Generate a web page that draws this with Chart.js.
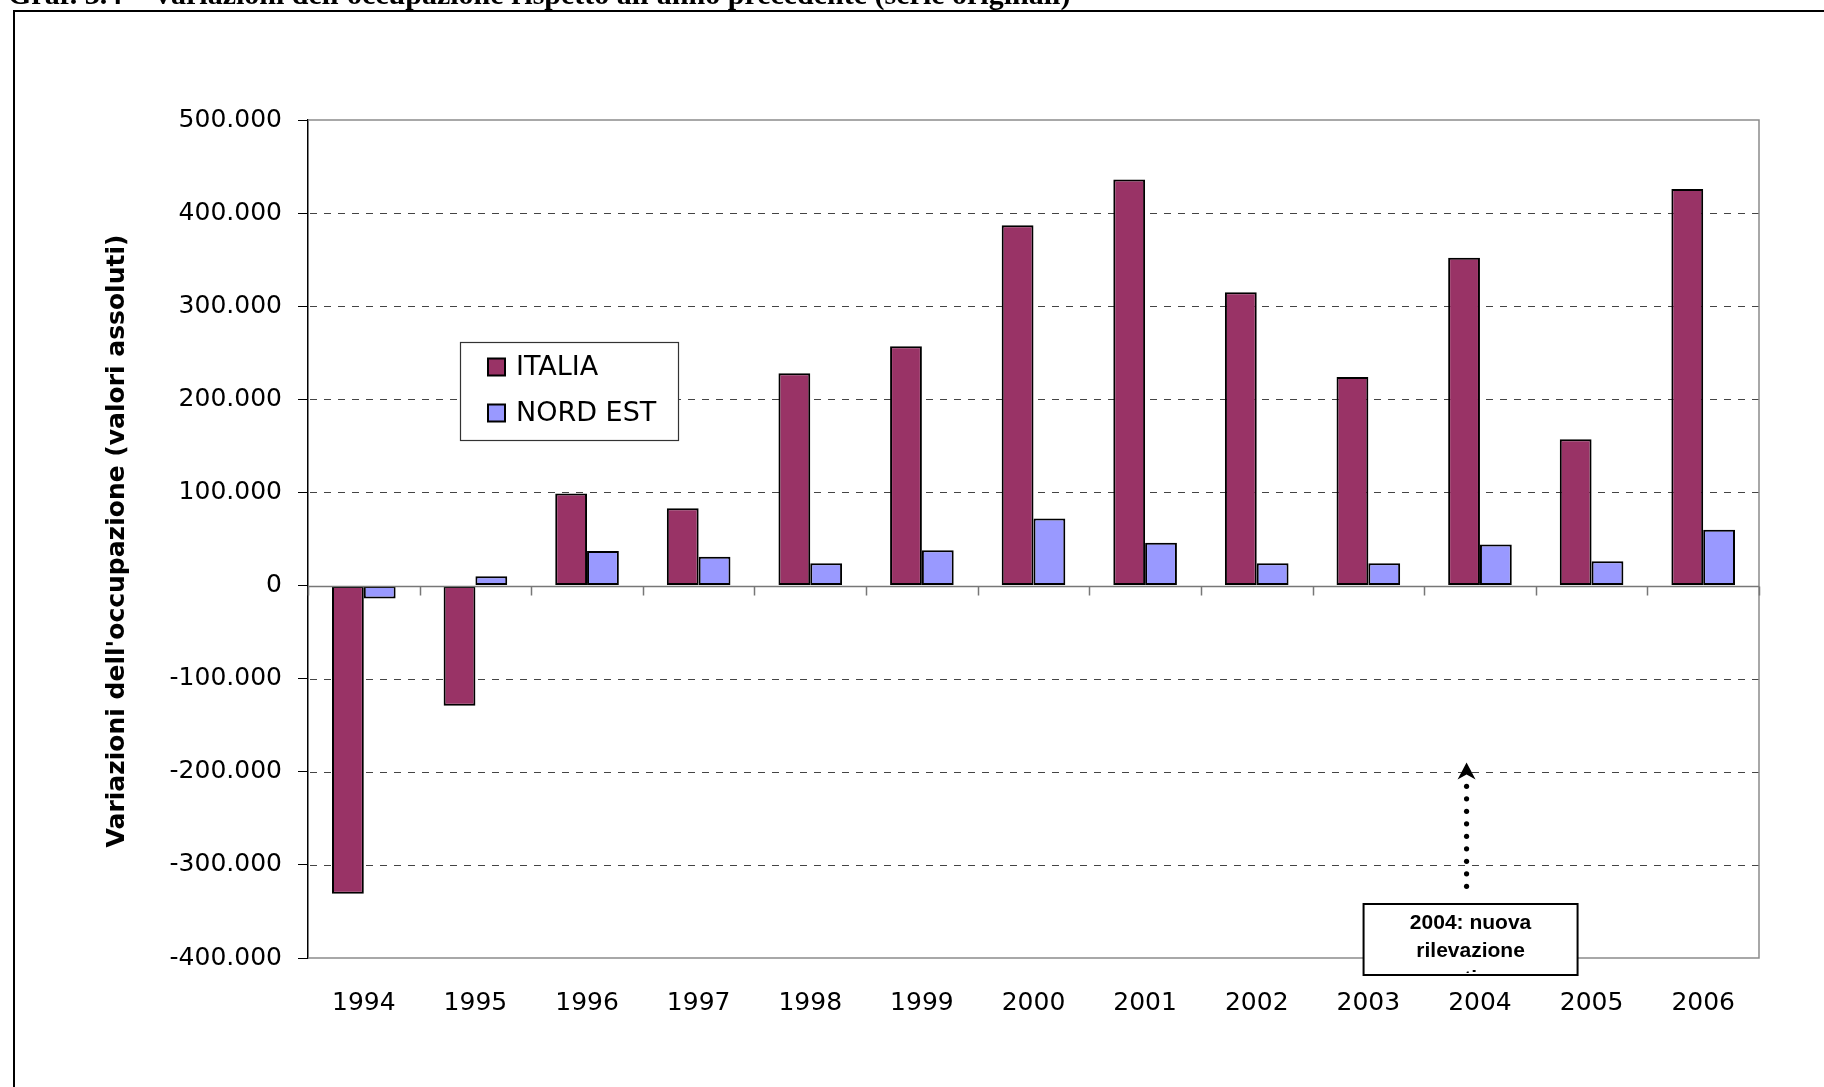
<!DOCTYPE html>
<html>
<head>
<meta charset="utf-8">
<script src="https://cdn.jsdelivr.net/npm/chart.js@4.4.1/dist/chart.umd.min.js"></script>
<style>
html, body { margin: 0; padding: 0; background: #fff; }
#chartReport { position: relative; width: 1824px; height: 1087px; overflow: hidden; }
canvas { display: block; }
</style>
</head>
<body>
<div id="chartReport"><canvas id="myChart" width="1824" height="1087"></canvas></div>
<script>
const PAGE_TITLE = "Graf. 3.4 \u2013 Variazioni dell'occupazione rispetto all'anno precedente (serie originali)";
const Y_TITLE = "Variazioni dell'occupazione (valori assoluti)";

const years = ['1994', '1995', '1996', '1997', '1998', '1999', '2000', '2001', '2002', '2003', '2004', '2005', '2006'];
const italia = [-331000, -129000, 99000, 83000, 228000, 257000, 387000, 436000, 315000, 224000, 352000, 157000, 426000];
const nordEst = [-14000, 10000, 37000, 31000, 24000, 38000, 72000, 46000, 24000, 24000, 44000, 26000, 60000];
const yTicks = [-400000, -300000, -200000, -100000, 0, 100000, 200000, 300000, 400000, 500000];

// nota sul grafico (2004)
const NOTE_YEAR = '2004';
const NOTE_LINES = ['2004: nuova', 'rilevazione', 'continua'];
const NOTE_ARROW_FROM = -323000;
const NOTE_ARROW_TO = -190000;

const ITALIA = 'ITALIA';
const NORD_EST = 'NORD EST';
const barColors = new Map([
  [ITALIA, '#993366'],
  [NORD_EST, '#9999ff'],
]);

function formatNumber(v) {
  const s = String(Math.abs(v)).replace(/\B(?=(\d{3})+(?!\d))/g, '.');
  return (v < 0 ? '-' : '') + s;
}

const frameLayer = {
  id: 'frameLayer',
  beforeDatasetsDraw(chart) {
    const {ctx, chartArea: a, scales: {y}} = chart;
    ctx.save();
    // griglia tratteggiata
    ctx.strokeStyle = '#444';
    ctx.lineWidth = 1;
    ctx.setLineDash([7, 7]);
    yTicks.forEach(v => {
      if (v === 0 || v === y.max || v === y.min) return;
      const py = Math.round(y.getPixelForValue(v)) + 0.5;
      ctx.beginPath();
      ctx.moveTo(a.left + 2, py);
      ctx.lineTo(a.right, py);
      ctx.stroke();
    });
    ctx.setLineDash([]);
    // bordo area grafico
    ctx.strokeStyle = '#8c8c8c';
    ctx.lineWidth = 1.5;
    ctx.beginPath();
    ctx.moveTo(a.left, a.top);
    ctx.lineTo(a.right, a.top);
    ctx.lineTo(a.right, a.bottom);
    ctx.lineTo(a.left, a.bottom);
    ctx.stroke();
    ctx.restore();
  },
  afterDatasetsDraw(chart) {
    const {ctx, chartArea: a, scales: {x, y}} = chart;
    const y0 = Math.round(y.getPixelForValue(0)) + 0.5;
    const step = x.getPixelForValue(1) - x.getPixelForValue(0);
    ctx.save();
    ctx.strokeStyle = '#777';
    ctx.lineWidth = 1.5;
    ctx.beginPath();
    ctx.moveTo(a.left, y0);
    ctx.lineTo(a.right, y0);
    for (let i = 0; i <= years.length; i++) {
      const px = Math.round(x.getPixelForValue(i) - step / 2) + 0.5;
      ctx.moveTo(px, y0);
      ctx.lineTo(px, y0 + 9);
    }
    ctx.stroke();
    ctx.restore();
  },
  afterDraw(chart) {
    const {ctx, chartArea: a, scales: {x, y}} = chart;
    ctx.save();

    // cornice pagina
    ctx.strokeStyle = '#000';
    ctx.lineWidth = 2;
    ctx.beginPath();
    ctx.moveTo(14, 1087);
    ctx.lineTo(14, 11);
    ctx.lineTo(1824, 11);
    ctx.stroke();

    // titolo (tagliato in alto)
    ctx.fillStyle = '#000';
    ctx.font = 'bold 30px "Liberation Serif"';
    ctx.textAlign = 'left';
    ctx.textBaseline = 'alphabetic';
    ctx.fillText(PAGE_TITLE, 8, 4);

    // titolo asse y
    ctx.save();
    ctx.translate(117, (a.top + a.bottom) / 2 + 2);
    ctx.rotate(-Math.PI / 2);
    ctx.font = 'bold 25px "DejaVu Sans"';
    ctx.textAlign = 'center';
    ctx.textBaseline = 'middle';
    ctx.fillText(Y_TITLE, 0, 0);
    ctx.restore();

    // legenda
    ctx.fillStyle = '#fff';
    ctx.fillRect(460, 342, 218, 98);
    ctx.strokeStyle = '#333';
    ctx.lineWidth = 1.2;
    ctx.strokeRect(460.5, 342.5, 218, 98);
    ctx.font = '27px "DejaVu Sans"';
    ctx.textAlign = 'left';
    ctx.textBaseline = 'middle';
    chart.data.datasets.forEach((ds, i) => {
      const cy = 367 + i * 46;
      ctx.fillStyle = ds.backgroundColor;
      ctx.fillRect(488, cy - 8.5, 17, 17);
      ctx.strokeStyle = '#000';
      ctx.lineWidth = 2;
      ctx.strokeRect(488, cy - 8.5, 17, 17);
      ctx.fillStyle = '#000';
      ctx.fillText(ds.label, 516, cy + 1);
    });

    // nota 2004: freccia puntinata
    const idx = years.indexOf(NOTE_YEAR);
    const step = x.getPixelForValue(1) - x.getPixelForValue(0);
    const ax = x.getPixelForValue(idx) - step * 0.12;
    const yFrom = y.getPixelForValue(NOTE_ARROW_FROM);
    const yTip = y.getPixelForValue(NOTE_ARROW_TO);
    ctx.fillStyle = '#000';
    for (let py = yFrom; py > yTip + 20; py -= 12.5) {
      ctx.beginPath();
      ctx.arc(ax, py, 2.6, 0, Math.PI * 2);
      ctx.fill();
    }
    ctx.beginPath();
    ctx.moveTo(ax, yTip);
    ctx.lineTo(ax - 9, yTip + 17);
    ctx.lineTo(ax, yTip + 12);
    ctx.lineTo(ax + 9, yTip + 17);
    ctx.closePath();
    ctx.fill();

    // nota 2004: riquadro
    const bx = ax - 103, bw = 214, by = 904, bh = 71;
    ctx.fillStyle = '#fff';
    ctx.fillRect(bx, by, bw, bh);
    ctx.save();
    ctx.beginPath();
    ctx.rect(bx, by, bw, bh - 2);
    ctx.clip();
    ctx.fillStyle = '#000';
    ctx.font = 'bold 21px "Liberation Sans"';
    ctx.textAlign = 'center';
    ctx.textBaseline = 'middle';
    NOTE_LINES.forEach((t, i) => ctx.fillText(t, bx + bw / 2, 923 + i * 28));
    ctx.restore();
    ctx.strokeStyle = '#000';
    ctx.lineWidth = 2;
    ctx.strokeRect(bx, by, bw, bh);

    ctx.restore();
  }
};

const ctx = document.getElementById('myChart');
const chart = new Chart(ctx, {
  type: 'bar',
  data: {
    labels: years,
    datasets: [
      {
        label: ITALIA,
        data: italia,
        backgroundColor: barColors.get(ITALIA),
        borderColor: '#000',
        borderWidth: 2,
        borderSkipped: false,
      },
      {
        label: NORD_EST,
        data: nordEst,
        backgroundColor: barColors.get(NORD_EST),
        borderColor: '#000',
        borderWidth: 2,
        borderSkipped: false,
      },
    ]
  },
  options: {
    responsive: false,
    animation: false,
    devicePixelRatio: 1,
    layout: {
      padding: {top: 120, right: 65, bottom: 0, left: 0}
    },
    datasets: {
      bar: {
        categoryPercentage: 0.57,
        barPercentage: 1.0,
      }
    },
    scales: {
      x: {
        grid: {display: false},
        border: {display: false},
        ticks: {
          color: '#000',
          font: {family: 'DejaVu Sans', size: 25},
          padding: 22,
          maxRotation: 0,
          autoSkip: false,
        },
        afterFit(scale) { scale.height = 129; }
      },
      y: {
        min: -400000,
        max: 500000,
        afterBuildTicks(scale) {
          scale.ticks = yTicks.map(v => ({value: v}));
        },
        grid: {
          display: true,
          drawOnChartArea: false,
          drawTicks: true,
          tickLength: 10,
          color: '#000',
          lineWidth: 1,
        },
        border: {display: true, color: '#000', width: 1.5},
        ticks: {
          color: '#000',
          font: {family: 'DejaVu Sans', size: 25},
          padding: 16,
          callback: v => formatNumber(v),
        },
        afterFit(scale) { scale.width = 308; }
      }
    },
    plugins: {
      legend: {display: false},
      title: {display: false},
      tooltip: {enabled: false},
    }
  },
  plugins: [frameLayer]
});
</script>
</body>
</html>
